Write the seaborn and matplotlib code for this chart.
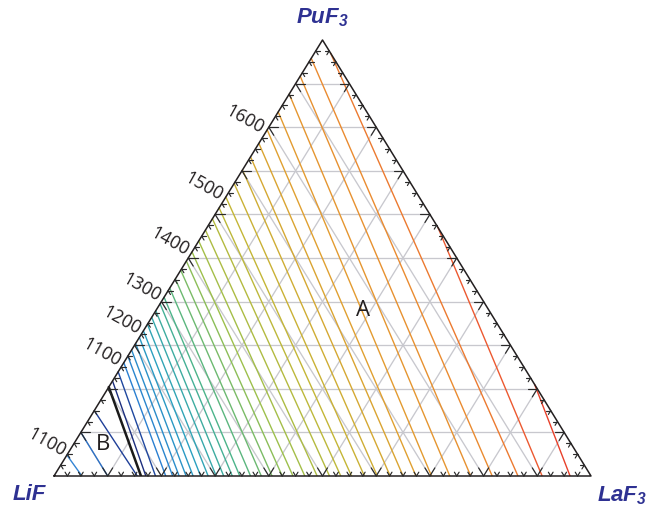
import numpy as np
import pandas as pd
import matplotlib
matplotlib.use("Agg")
import matplotlib.pyplot as plt
import seaborn as sns
from matplotlib.colors import LinearSegmentedColormap

# ---------------- data ----------------
# Region A isotherms starting on the LiF-PuF3 edge: PuF3 fraction at start, LaF3 fraction at end (LiF-LaF3 edge)
a_left_start_pu = [0.218, 0.239, 0.26, 0.275, 0.289, 0.304, 0.318, 0.333, 0.348, 0.364,
                   0.379, 0.395, 0.41, 0.431, 0.452, 0.472, 0.493, 0.514, 0.539, 0.564,
                   0.59, 0.615, 0.64, 0.671, 0.702, 0.732, 0.763, 0.794, 0.835, 0.876,
                   0.917, 0.958]
a_left_end_la = [0.171, 0.189, 0.208, 0.221, 0.233, 0.246, 0.259, 0.273, 0.287, 0.302,
                 0.316, 0.332, 0.346, 0.366, 0.386, 0.406, 0.425, 0.445, 0.467, 0.49,
                 0.513, 0.534, 0.554, 0.578, 0.602, 0.626, 0.65, 0.674, 0.703, 0.737,
                 0.776, 0.816]
# Region A isotherms starting on the PuF3-LaF3 edge
a_right_start_pu = [0.97, 0.57, 0.21]
a_right_end_la = [0.864, 0.909, 0.961]
# Region B (LiF primary field) isotherms
b_start_pu = [0.048, 0.10, 0.15]
b_end_la = [0.052, 0.10, 0.155]
b_colors = ["#3384d4", "#2c70c4", "#1f3f98"]
# Boundary line between fields
bound_start_pu = 0.204
bound_end_la = 0.162

# Temperature labels on LiF-PuF3 edge
temp_labels = ["1600", "1500", "1400", "1300", "1200", "1100", "1100"]
temp_label_pu = [0.794, 0.64, 0.514, 0.41, 0.333, 0.26, 0.055]

corner_names = ["PuF$_3$", "LiF", "LaF$_3$"]
field_names = ["A", "B"]

# colour stops for isotherms (low -> high temperature)
cmap_stops = [(0.0, "#1c2e7e"), (0.029, "#1f48a0"), (0.059, "#2a7fd0"), (0.206, "#2aa0c0"),
              (0.353, "#4cb48a"), (0.5, "#9cc04c"), (0.647, "#c4b636"), (0.794, "#e0a030"),
              (0.912, "#ea8c30"), (0.941, "#ec7a30"), (0.971, "#ec5a30"), (1.0, "#e8402a")]


def tern(la, pu):
    la = np.asarray(la, float)
    pu = np.asarray(pu, float)
    return la + 0.5 * pu, pu


# ---------------- figure ----------------
sns.set_theme(style="white")
plt.rcParams["mathtext.fontset"] = "custom"
plt.rcParams["mathtext.rm"] = "Liberation Sans:bold:italic"
plt.rcParams["mathtext.it"] = "Liberation Sans:bold:italic"
plt.rcParams["mathtext.bf"] = "Liberation Sans:bold:italic"

W, H = 657, 512
fig = plt.figure(figsize=(W / 100, H / 100), dpi=100)
ax = fig.add_axes([54 / W, 36 / H, 537 / W, 436 / H])
ax.set_xlim(0, 1)
ax.set_ylim(0, 1)
ax.axis("off")

# gray grid
gc = "#c8c8ce"
for k in range(1, 10):
    f = k / 10
    x, y = tern([0, 1 - f], [f, f])
    ax.plot(x, y, color=gc, lw=0.95, zorder=1)
    x, y = tern([f, f], [0, 1 - f])
    ax.plot(x, y, color=gc, lw=0.95, zorder=1)
    x, y = tern([1 - f, 0], [0, 1 - f])
    ax.plot(x, y, color=gc, lw=0.95, zorder=1)

# isotherms of region A via seaborn
rows = []
lines = []
for s, e in zip(a_left_start_pu, a_left_end_la):
    lines.append(((0.0, s), (e, 0.0)))
for s, e in zip(a_right_start_pu, a_right_end_la):
    lines.append(((1 - s, s), (e, 0.0)))
lines.sort(key=lambda l: l[1][0])
for i, (p0, p1) in enumerate(lines):
    for j, (la, pu) in enumerate((p0, p1)):
        X, Y = tern(la, pu)
        rows.append({"line": i, "order": j, "X": float(X), "Y": float(Y)})
dfA = pd.DataFrame(rows)
cmap = LinearSegmentedColormap.from_list("iso", cmap_stops)
n = len(lines)
palA = {i: cmap(i / (n - 1)) for i in range(n)}
sns.lineplot(data=dfA, x="X", y="Y", hue="line", units="line", estimator=None,
             sort=False, palette=palA, legend=False, lw=1.0, ax=ax, zorder=3)

# region B isotherms
rowsB = []
for i, (s, e) in enumerate(zip(b_start_pu, b_end_la)):
    for j, (la, pu) in enumerate(((0.0, s), (e, 0.0))):
        X, Y = tern(la, pu)
        rowsB.append({"line": i, "order": j, "X": float(X), "Y": float(Y)})
dfB = pd.DataFrame(rowsB)
sns.lineplot(data=dfB, x="X", y="Y", hue="line", units="line", estimator=None,
             sort=False, palette=dict(enumerate(b_colors)), legend=False, lw=1.0,
             ax=ax, zorder=3)

# boundary
x, y = tern([0, bound_end_la], [bound_start_pu, 0])
ax.plot(x, y, color="#1a1a1a", lw=1.8, zorder=4)

# triangle
x, y = tern([0, 1, 0, 0], [0, 0, 1, 0])
ax.plot(x, y, color="#231f20", lw=1.1, zorder=5, clip_on=False)

# ticks (chevrons)
pxW, pxH = 537.0, 436.0


def arm(dx_d, dy_d, L):
    lpx = np.hypot(dx_d * pxW, dy_d * pxH)
    return dx_d * L / lpx, dy_d * L / lpx


tc = "#2a2a2a"
for k in range(1, 40):
    f = k * 0.025
    major = (k % 4 == 0)
    L = 9.5 if major else 4.5
    # bottom edge
    X0, Y0 = tern(f, 0)
    for d in [(0.5, 1.0), (-0.5, 1.0)]:
        dx, dy = arm(*d, L)
        ax.plot([X0, X0 + dx], [Y0, Y0 + dy], color=tc, lw=0.85, zorder=5, clip_on=False)
    # left edge
    X0, Y0 = tern(0, f)
    for d in [(1.0, 0.0), (0.5, -1.0)]:
        dx, dy = arm(*d, L)
        ax.plot([X0, X0 + dx], [Y0, Y0 + dy], color=tc, lw=0.85, zorder=5, clip_on=False)
    # right edge
    X0, Y0 = tern(1 - f, f)
    for d in [(-1.0, 0.0), (-0.5, -1.0)]:
        dx, dy = arm(*d, L)
        ax.plot([X0, X0 + dx], [Y0, Y0 + dy], color=tc, lw=0.85, zorder=5, clip_on=False)

# temperature labels
for lab, s in zip(temp_labels, temp_label_pu):
    X0, Y0 = tern(0, s)
    ax.annotate(lab, xy=(float(X0), float(Y0)), xycoords="data",
                xytext=(-4, 0), textcoords="offset pixels",
                ha="right", va="center", rotation=-29, rotation_mode="anchor",
                fontsize=13, family=["Open Sans", "DejaVu Sans"], color="#231f20",
                annotation_clip=False)

# field labels
ax.text((363 - 54) / 537, (476 - 310) / 436, field_names[0], ha="center",
        va="center", fontsize=16, family=["Open Sans", "DejaVu Sans"], color="#231f20", zorder=6)
ax.text((103 - 54) / 537, (476 - 445) / 436, field_names[1], ha="center", va="center",
        fontsize=16, family=["Open Sans", "DejaVu Sans"], color="#231f20", zorder=6)

# corner labels
navy = "#2e3192"
fig.text(322 / W, 1 - 18 / H, corner_names[0], ha="center", va="center", fontsize=16,
         color=navy, family="Liberation Sans", weight="bold", style="italic")
fig.text(29 / W, 1 - 495 / H, corner_names[1], ha="center", va="center", fontsize=16,
         color=navy, family="Liberation Sans", weight="bold", style="italic")
fig.text(622 / W, 1 - 496 / H, corner_names[2], ha="center", va="center", fontsize=16,
         color=navy, family="Liberation Sans", weight="bold", style="italic")

fig.savefig("out.png", dpi=100)
